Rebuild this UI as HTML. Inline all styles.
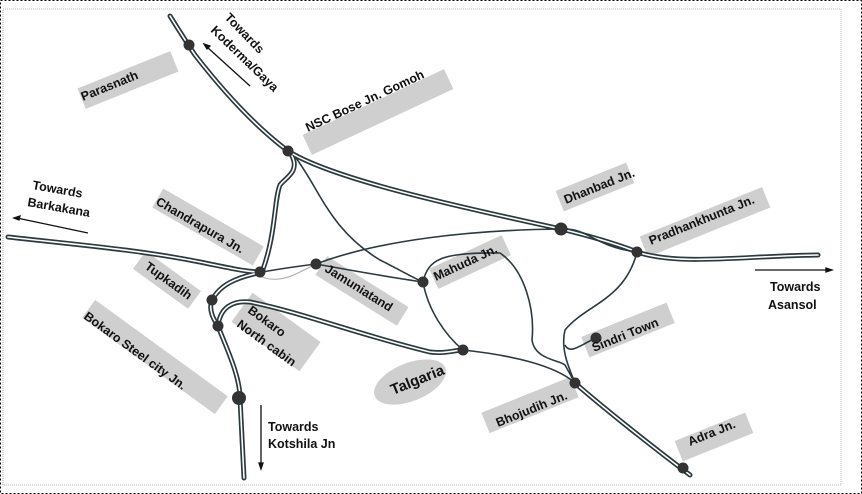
<!DOCTYPE html>
<html><head><meta charset="utf-8"><style>
html,body{margin:0;padding:0;background:#fff}
svg{display:block}
text{font-family:"Liberation Sans",sans-serif;font-weight:bold;font-size:12.5px;fill:#111}
.lb{fill:#cfcfcf}
</style></head><body>
<svg width="862" height="494" viewBox="0 0 862 494" xmlns="http://www.w3.org/2000/svg">
<rect x="0.5" y="0.5" width="861" height="493" fill="none" stroke="#000" stroke-dasharray="2,2"/>
<rect x="3" y="9" width="838" height="476" fill="none" stroke="#bbb" stroke-dasharray="1,1"/>

<g>
<rect class="lb" x="-50" y="-11" width="100" height="22" transform="translate(128,80) rotate(-22)"/>
<rect class="lb" x="-78" y="-11" width="156" height="22" transform="translate(378,112) rotate(-25)"/>
<rect class="lb" x="-58" y="-11" width="116" height="22" transform="translate(208,227) rotate(30)"/>
<rect class="lb" x="-38" y="-11" width="76" height="22" transform="translate(595,187) rotate(-22)"/>
<rect class="lb" x="-66" y="-11" width="132" height="22" transform="translate(705,222) rotate(-22)"/>
<rect class="lb" x="-40" y="-11" width="80" height="22" transform="translate(470,262) rotate(-25)"/>
<rect class="lb" x="-48" y="-11" width="96" height="22" transform="translate(362,291) rotate(32)"/>
<rect class="lb" x="-34" y="-11" width="68" height="22" transform="translate(167,280) rotate(36)"/>
<rect class="lb" x="-42" y="-18" width="84" height="36" transform="translate(276,332) rotate(36)"/>
<rect class="lb" x="-82" y="-11" width="164" height="22" transform="translate(155,357) rotate(36)"/>
<ellipse cx="410" cy="382" rx="38" ry="19" fill="#cfcfcf" transform="rotate(-22 410 382)"/>
<rect class="lb" x="-46" y="-11" width="92" height="22" transform="translate(628,330) rotate(-22)"/>
<rect class="lb" x="-48" y="-11" width="96" height="22" transform="translate(530,405) rotate(-22)"/>
<rect class="lb" x="-38" y="-11" width="76" height="22" transform="translate(714,437) rotate(-22)"/>
</g>

<g fill="none" stroke-linecap="round">
<g stroke="#2b3a3f" stroke-width="5">
<path id="d1" d="M170,16 C180,32 185,40 195,55 C230,100 260,130 288,151 C330,178 450,205 561,229 C590,236 620,245 637,252 C680,266 740,256 818,255"/>
<path id="d2" d="M8,237 C80,245 140,250 200,262 C230,268 245,272 262,272"/>
<path id="d3" d="M292,156 C300,172 285,178 280,185 C274,200 276,235 262,272"/>
<path id="d4" d="M258,273 C235,278 220,285 212,300 C208,310 214,320 218,326 C225,345 240,375 240,398 L244,478"/>
<path id="d5" d="M218,326 C220,308 232,300 250,302 C300,312 360,335 430,352 C445,354 455,350 463,350"/>
<path id="d6" d="M575,383 C600,405 650,445 690,475"/>
</g>
<g stroke="#fff" stroke-width="1.6">
<use href="#d1"/><use href="#d2"/><use href="#d3"/><use href="#d4"/><use href="#d5"/><use href="#d6"/>
</g>
</g>

<g fill="none" stroke="#2b3a3f" stroke-width="1.6">
<path d="M262,272 C285,268 300,266 316,264"/>
<path d="M316,264 C380,240 470,230 561,229"/>
<path d="M316,264 C360,272 395,278 423,282"/>
<path d="M296,158 C320,190 330,230 380,260 C400,270 410,276 423,282"/>
<path d="M423,282 C428,310 445,335 463,350"/>
<path d="M423,282 C428,260 440,252 500,253 C525,270 535,310 532,340 C535,360 560,360 565,365 L575,383"/>
<path d="M463,350 C510,355 555,365 575,383"/>
<path d="M637,252 C625,300 585,305 565,330 C560,350 570,370 575,383"/>
<path d="M565,345 C570,355 580,345 596,338"/>
<path d="M561,229 C590,228 592,246 637,252"/>
<path d="M258,275 C270,282 285,280 300,272 C308,268 312,266 316,264" stroke="#aaa" stroke-width="1"/>
</g>

<g fill="#333">
<circle cx="189" cy="45" r="5.5"/><circle cx="288" cy="151" r="5.5"/><circle cx="561" cy="229" r="6.5"/>
<circle cx="637" cy="252" r="5.5"/><circle cx="260" cy="272" r="5.5"/><circle cx="316" cy="264" r="5.5"/>
<circle cx="423" cy="282" r="5.5"/><circle cx="212" cy="300" r="5.5"/><circle cx="218" cy="326" r="5.5"/>
<circle cx="239" cy="398" r="7"/><circle cx="463" cy="350" r="5.5"/><circle cx="596" cy="338" r="5.5"/>
<circle cx="575" cy="383" r="5.5"/><circle cx="683" cy="468" r="5.5"/>
</g>

<g stroke="#111" stroke-width="1.3" fill="#111">
<line x1="250" y1="86" x2="207" y2="47"/><path d="M204,44 l6,2 -3,3z"/>
<line x1="88" y1="233" x2="17" y2="218"/><path d="M14,218 l6,-2 -1,4z"/>
<line x1="755" y1="270" x2="828" y2="270"/><path d="M832,270 l-6,-2 0,4z"/>
<line x1="261" y1="405" x2="261" y2="465"/><path d="M261,469 l-2,-6 4,0z"/>
</g>

<text transform="translate(83,101) rotate(-22)">Parasnath</text>
<text transform="translate(308,132) rotate(-25)">NSC Bose Jn. Gomoh</text>
<text transform="translate(155,204) rotate(30)">Chandrapura Jn.</text>
<text transform="translate(566,204) rotate(-22)">Dhanbad Jn.</text>
<text transform="translate(651,245) rotate(-22)">Pradhankhunta Jn.</text>
<text transform="translate(436,281) rotate(-25)">Mahuda Jn.</text>
<text transform="translate(324,271) rotate(32)">Jamuniatand</text>
<text transform="translate(144,268) rotate(36)">Tupkadih</text>
<text transform="translate(247,312) rotate(36)">Bokaro</text>
<text transform="translate(236,326) rotate(36)">North cabin</text>
<text transform="translate(83,318) rotate(36)">Bokaro Steel city Jn.</text>
<text transform="translate(393,395) rotate(-22)" style="font-size:15px">Talgaria</text>
<text transform="translate(594,352) rotate(-22)">Sindri Town</text>
<text transform="translate(498,427) rotate(-22)">Bhojudih Jn.</text>
<text transform="translate(690,446) rotate(-22)">Adra Jn.</text>
<text transform="translate(224,18) rotate(46)">Towards</text>
<text transform="translate(210,31) rotate(44)">Koderma/Gaya</text>
<text transform="translate(32,189) rotate(10)">Towards</text>
<text transform="translate(27,206) rotate(10)">Barkakana</text>
<text x="770" y="291">Towards</text>
<text x="768" y="309">Asansol</text>
<text x="268" y="431">Towards</text>
<text x="268" y="448">Kotshila Jn</text>
</svg>
</body></html>
